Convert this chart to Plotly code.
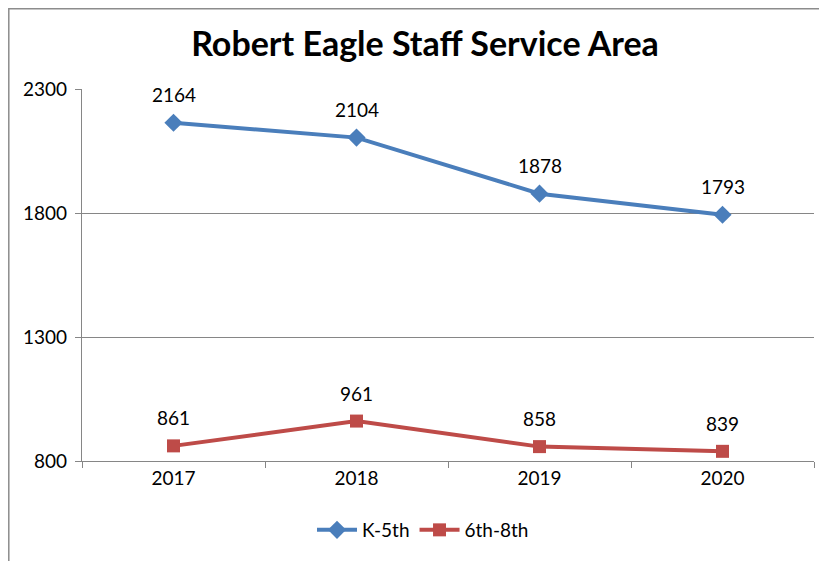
import plotly.graph_objects as go

years = ["2017", "2018", "2019", "2020"]
k5 = [2164, 2104, 1878, 1793]
g68 = [861, 961, 858, 839]
yticks = [800, 1300, 1800, 2300]

FONT = "Lato, Carlito, Calibri, sans-serif"
W, H = 819, 553
L, R, T, B = 74, 13, 81, 100
pw, ph = W - L - R, H - T - B

fig = go.Figure()
fig.add_trace(go.Scatter(x=years, y=k5, name="K-5th", mode="lines+markers",
                         line=dict(color="#4A7EBB", width=4),
                         marker=dict(symbol="diamond", size=14, color="#4A7EBB")))
fig.add_trace(go.Scatter(x=years, y=g68, name="6th-8th", mode="lines+markers",
                         line=dict(color="#BE4B48", width=4),
                         marker=dict(symbol="square", size=13, color="#BE4B48")))

for ser in (k5, g68):
    for i, yv in enumerate(ser):
        fig.add_annotation(x=i, y=yv, xref="x", yref="y", text=str(yv), showarrow=False,
                           yshift=28, bgcolor="white",
                           font=dict(size=19, color="black", family=FONT), borderpad=1)

# chart-area border (left and top edges visible)
fig.add_shape(type="rect", xref="paper", yref="paper",
              x0=(-L + 0.8) / pw, x1=(pw + R + 20) / pw,
              y0=-(B + 20) / ph, y1=(ph + T - 0.8) / ph,
              line=dict(color="#8c8c8c", width=1.5), layer="below")

fig.update_layout(
    width=W, height=H,
    margin=dict(l=L, r=R, t=T, b=B),
    plot_bgcolor="white", paper_bgcolor="white",
    title=dict(text="<b>Robert Eagle Staff Service Area</b>", x=417 / W, xanchor="center",
               y=1 - 36 / H, yanchor="middle",
               font=dict(size=34, family=FONT, color="black")),
    font=dict(family=FONT, size=19, color="black"),
    showlegend=True,
    legend=dict(orientation="h", x=(415 - L) / pw, xanchor="center",
                y=-(522 - (T + ph)) / ph, yanchor="middle",
                font=dict(size=19, family=FONT), tracegroupgap=0, itemwidth=40),
    xaxis=dict(type="category", range=[-0.5, 3.5], showgrid=False,
               showline=True, linecolor="#868686", linewidth=1.2,
               ticks="outside", tickson="boundaries", ticklen=6, tickcolor="#868686",
               tickfont=dict(size=19, family=FONT)),
    yaxis=dict(range=[800, 2300], tickvals=yticks, showgrid=True, gridcolor="#868686",
               gridwidth=1.2, showline=True, linecolor="#868686", linewidth=1.2,
               ticks="outside", ticklen=6, tickcolor="#868686", zeroline=False,
               tickfont=dict(size=19, family=FONT), ticklabelstandoff=4),
)

fig.write_html("out.html")
